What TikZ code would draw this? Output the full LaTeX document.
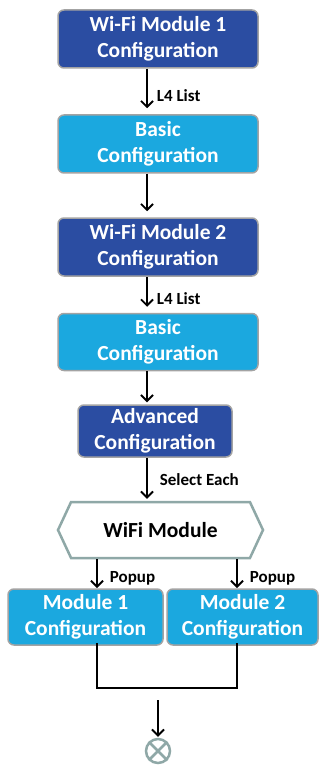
\documentclass[tikz,border=0pt]{standalone}
\usepackage{fontspec}
\setmainfont{Carlito}
\usetikzlibrary{arrows.meta,shapes.symbols}
\definecolor{dkblue}{HTML}{2B4DA2}
\definecolor{ltblue}{HTML}{1BA8DF}
\definecolor{edgegray}{HTML}{A3A3A3}
\definecolor{hexgray}{HTML}{8FA8A7}
\tikzset{
  box/.style={draw=edgegray, line width=1.5pt, rounded corners=6pt, align=center,
    text=white, font=\fontsize{21.5}{26}\selectfont\bfseries, inner sep=0pt},
  darkbox/.style={box, fill=dkblue},
  lightbox/.style={box, fill=ltblue},
  arr/.style={draw=black, line width=1.8pt, -{Straight Barb[length=6pt,width=12pt]}},
  conn/.style={draw=black, line width=1.8pt},
  lbl/.style={font=\fontsize{17}{19}\selectfont\bfseries, text=black, anchor=west, inner sep=0pt}
}
\begin{document}
\begin{tikzpicture}[x=1pt,y=-1pt]
\useasboundingbox (0,0) rectangle (320,767);
\node[darkbox, minimum width=200pt, minimum height=58pt] (b1) at (158,39) {Wi-Fi Module 1\\Configuration};
\node[lightbox, minimum width=200pt, minimum height=58pt] (b2) at (158,144) {Basic\\Configuration};
\node[darkbox, minimum width=200pt, minimum height=58pt] (b3) at (158,247) {Wi-Fi Module 2\\Configuration};
\node[lightbox, minimum width=200pt, minimum height=57pt] (b4) at (158,342) {Basic\\Configuration};
\node[darkbox, minimum width=154pt, minimum height=52pt] (b5) at (155,431) {Advanced\\Configuration};
\node[signal, signal to=east and west, signal pointer angle=130, draw=hexgray, line width=2.5pt, fill=white,
  minimum width=205pt, minimum height=56pt, inner sep=0pt, font=\fontsize{21.5}{26}\selectfont\bfseries] (hex) at (160.5,530) {WiFi Module};
\node[lightbox, minimum width=155pt, minimum height=56pt] (m1) at (85.5,617) {Module 1\\Configuration};
\node[lightbox, minimum width=151pt, minimum height=56pt] (m2) at (242.5,617) {Module 2\\Configuration};
\node[circle, draw=hexgray, line width=2.5pt, minimum size=24pt, inner sep=0pt] (end) at (158,751) {};
\draw[hexgray, line width=2.5pt] (end.north west) -- (end.south east) (end.north east) -- (end.south west);

\coordinate (a) at (147,0);
\coordinate (p1) at (97,588);
\coordinate (p2) at (237,588);
\coordinate (q1) at (97,688);
\coordinate (q2) at (237,688);
\coordinate (j) at (158,700);

\draw[arr, shorten >=6pt] (b1.south -| a) -- (b2.north -| a) node[lbl, pos=0.6, right=9pt] {L4 List};
\draw[arr, shorten >=6pt] (b2.south -| a) -- (b3.north -| a);
\draw[arr, shorten >=6pt] (b3.south -| a) -- (b4.north -| a) node[lbl, pos=0.6, right=9pt] {L4 List};
\draw[arr, shorten >=2pt] (b4.south -| a) -- (b5.north -| a);
\draw[arr, shorten >=2pt] (b5.south -| a) -- (hex.north -| a) node[lbl, pos=0.5, right=12pt] {Select Each};
\draw[arr] (hex.south -| p1) -- (p1) node[lbl, pos=0.65, right=12pt] {Popup};
\draw[arr] (hex.south -| p2) -- (p2) node[lbl, pos=0.65, right=12pt] {Popup};
\draw[conn] ([yshift=3pt]m1.south -| q1) -- (q1) -- (q2) -- ([yshift=3pt]m2.south -| q2);
\draw[arr, shorten >=1pt] (j) -- (end.north);
\end{tikzpicture}
\end{document}
